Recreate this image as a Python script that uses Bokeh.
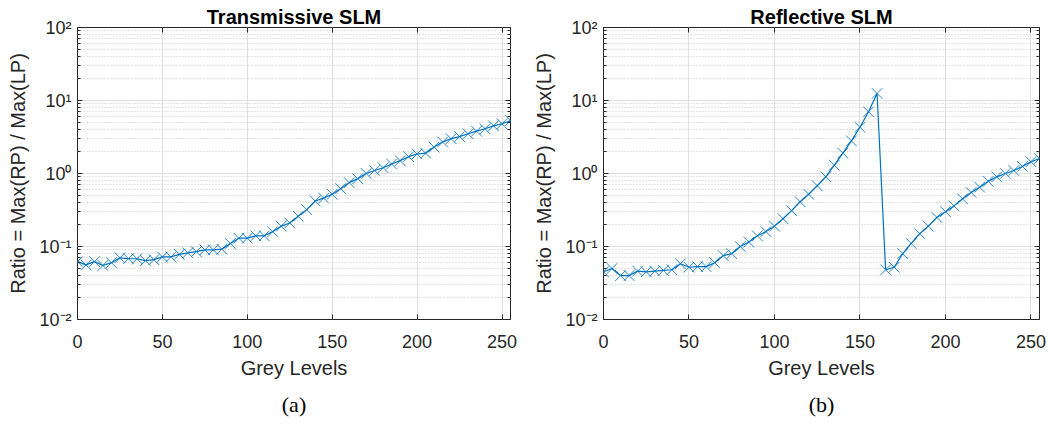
from bokeh.plotting import figure
from bokeh.layouts import row
from bokeh.models import Range1d, FixedTicker, LinearAxis, LogAxis, Title
from bokeh.embed import file_html
from bokeh.resources import INLINE

grey = list(range(0, 255, 5)) + [255]

trans_ratio = [0.062, 0.056, 0.062, 0.055, 0.060, 0.070, 0.068, 0.068, 0.064, 0.066,
               0.072, 0.072, 0.078, 0.082, 0.085, 0.090, 0.090, 0.092, 0.11, 0.13,
               0.13, 0.14, 0.14, 0.16, 0.19, 0.21, 0.26, 0.32, 0.42, 0.46,
               0.52, 0.62, 0.75, 0.85, 1.0, 1.1, 1.2, 1.35, 1.5, 1.7,
               1.85, 1.9, 2.3, 2.7, 3.0, 3.2, 3.5, 3.8, 4.1, 4.5,
               4.8, 5.3]

refl_ratio = [0.045, 0.050, 0.040, 0.040, 0.046, 0.045, 0.046, 0.047, 0.048, 0.058,
              0.052, 0.053, 0.053, 0.060, 0.075, 0.080, 0.10, 0.115, 0.14, 0.16,
              0.19, 0.24, 0.31, 0.41, 0.52, 0.68, 0.90, 1.3, 1.9, 2.8,
              4.3, 7.0, 12.5, 0.048, 0.052, 0.080, 0.11, 0.15, 0.19, 0.25,
              0.30, 0.36, 0.45, 0.55, 0.65, 0.78, 0.90, 1.0, 1.1, 1.25,
              1.45, 1.6]

titles = ["Transmissive SLM", "Reflective SLM"]
captions = ["(a)", "(b)"]
x_ticks = [0, 50, 100, 150, 200, 250]
y_ticks = [0.01, 0.1, 1, 10, 100]
y_tick_labels = ["10\u207b\u00b2", "10\u207b\u00b9", "10\u2070", "10\u00b9", "10\u00b2"]
y_minor = [m * 10.0 ** e for e in range(-2, 2) for m in range(2, 10)]

BLUE = "#0072BD"
AX = "#262626"
FONT = "Liberation Sans"


def style_axis(ax, labels=True):
    ax.axis_line_color = None
    ax.major_tick_in = 5
    ax.major_tick_out = 0
    ax.minor_tick_in = 3
    ax.minor_tick_out = 0
    ax.major_tick_line_color = AX
    ax.minor_tick_line_color = AX
    ax.major_label_text_font = FONT
    ax.major_label_text_font_size = "18px"
    ax.major_label_text_color = AX
    ax.axis_label_text_font = FONT
    ax.axis_label_text_font_size = "20px"
    ax.axis_label_text_font_style = "normal"
    ax.axis_label_text_color = AX
    if not labels:
        ax.major_label_text_font_size = "1px"
        ax.major_label_text_alpha = 0
        ax.major_label_standoff = 0


def make(i, x, y, left_border):
    p = figure(frame_width=433 if i == 0 else 436, frame_height=292,
               x_range=Range1d(0, 255), y_range=Range1d(0.01, 100),
               y_axis_type="log", output_backend="svg", toolbar_location=None,
               min_border_left=left_border, min_border_right=20,
               min_border_top=27, min_border_bottom=109)
    p.outline_line_color = AX
    p.outline_line_width = 1
    p.background_fill_color = "white"
    p.border_fill_color = "white"

    p.title.text = titles[i]
    p.title.align = "center"
    p.title.text_font = FONT
    p.title.text_font_size = "20px"
    p.title.text_font_style = "bold"
    p.title.text_color = "black"
    p.title.standoff = 0
    p.title.offset = 0

    xt = FixedTicker(ticks=x_ticks)
    yt = FixedTicker(ticks=y_ticks, minor_ticks=y_minor)
    p.xaxis.ticker = xt
    p.yaxis.ticker = yt
    p.yaxis.major_label_overrides = {t: l for t, l in zip(y_ticks, y_tick_labels)}
    p.xaxis.axis_label = "Grey Levels"
    p.yaxis.axis_label = "Ratio = Max(RP) / Max(LP)"
    for ax in p.xaxis + p.yaxis:
        style_axis(ax)
    p.xaxis.major_label_standoff = 15
    p.xaxis.axis_label_standoff = 6
    p.yaxis.major_label_standoff = 6
    p.yaxis.axis_label_standoff = 7

    top = LinearAxis(ticker=FixedTicker(ticks=x_ticks))
    right = LogAxis(ticker=FixedTicker(ticks=y_ticks, minor_ticks=y_minor))
    style_axis(top, labels=False)
    style_axis(right, labels=False)
    top.major_label_standoff = 6
    p.add_layout(top, "above")
    p.add_layout(right, "right")

    p.xgrid.grid_line_color = "#e0e0e0"
    p.ygrid.grid_line_color = "#e0e0e0"
    p.xgrid.ticker = xt
    p.ygrid.ticker = yt
    p.ygrid.minor_grid_line_color = "#c8c8c8"
    p.ygrid.minor_grid_line_dash = "1 2"

    cap = Title(text=captions[i], align="center", text_font="Liberation Serif",
                text_font_size="22px", text_font_style="normal", text_color="black",
                standoff=17)
    p.add_layout(cap, "below")

    p.line(x, y, line_color=BLUE, line_width=1.2)
    p.scatter(x, y, marker="x", size=15, line_color=BLUE, line_width=1, line_alpha=0.85)
    return p


p1 = make(0, grey, trans_ratio, 77)
p2 = make(1, grey, refl_ratio, 73)
layout = row(p1, p2, spacing=0)
open("out.html", "w").write(file_html(layout, INLINE))
